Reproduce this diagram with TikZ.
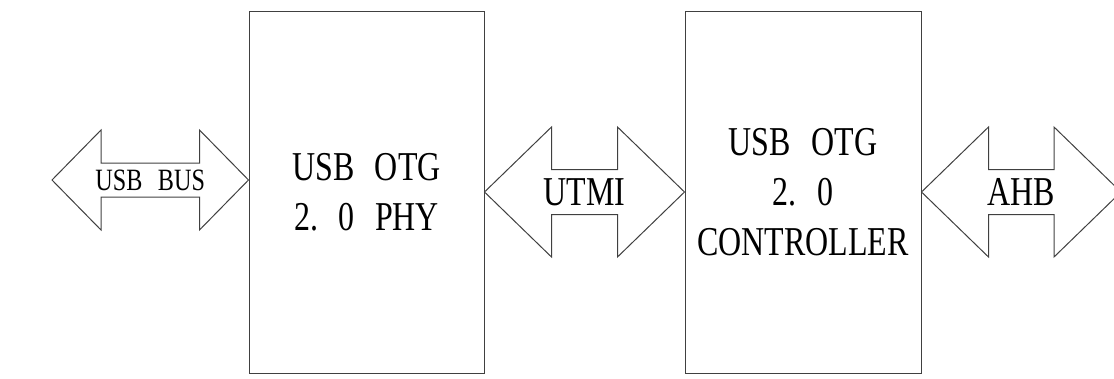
\documentclass[tikz,border=0pt]{standalone}
\usepackage{fontspec}
\setmainfont[FakeStretch=0.78]{Liberation Serif}
\usetikzlibrary{calc}

\tikzset{
  block/.style={draw=black!75, line width=1pt, minimum height=362pt,
    align=center, font=\fontsize{41}{50}\selectfont},
  busline/.style={draw=black!75, line width=1pt, line join=miter},
  buslabel/.style={inner sep=0pt, font=\fontsize{41}{48}\selectfont},
}
\newcommand\wsp{\hspace{0.5em}}
% double arrow: from, to, shaft half width, head half width, head length
\newcommand\busarrow[5]{%
  \draw[busline] let \p1=(#1), \p2=(#2) in
    (\x1,\y1) -- (\x1+#5pt,\y1+#4pt) -- (\x1+#5pt,\y1+#3pt)
    -- (\x2-#5pt,\y1+#3pt) -- (\x2-#5pt,\y1+#4pt) -- (\x2,\y1)
    -- (\x2-#5pt,\y1-#4pt) -- (\x2-#5pt,\y1-#3pt)
    -- (\x1+#5pt,\y1-#3pt) -- (\x1+#5pt,\y1-#4pt) -- cycle;}

\begin{document}
\begin{tikzpicture}[x=1pt,y=-1pt]
    \useasboundingbox (0,0) rectangle (1114,378);
    \node[block, minimum width=235pt] (phy) at (366.5,192) {USB\wsp OTG\\2.\wsp 0\wsp PHY};
    \node[block, minimum width=236pt] (ctrl) at (803,192) {USB\wsp OTG\\2.\wsp 0\\CONTROLLER};
    \coordinate (busend) at (52,180);
    \coordinate (ahbend) at (1121,192);
    \busarrow{busend}{phy.west |- busend}{17}{50}{49}
    \busarrow{phy.east}{ctrl.west}{22.5}{65}{67}
    \busarrow{ctrl.east}{ahbend}{22.5}{65}{67}
    \node[buslabel, font=\fontsize{31}{36}\selectfont] (usblbl) at ($(busend)!0.5!(phy.west |- busend)$) {USB\wsp BUS};
    \node[buslabel] (utmilbl) at ($(phy.east)!0.5!(ctrl.west)$) {UTMI};
    \node[buslabel] (ahblbl) at ($(ctrl.east)!0.5!(ahbend)$) {AHB};
\end{tikzpicture}
\end{document}
